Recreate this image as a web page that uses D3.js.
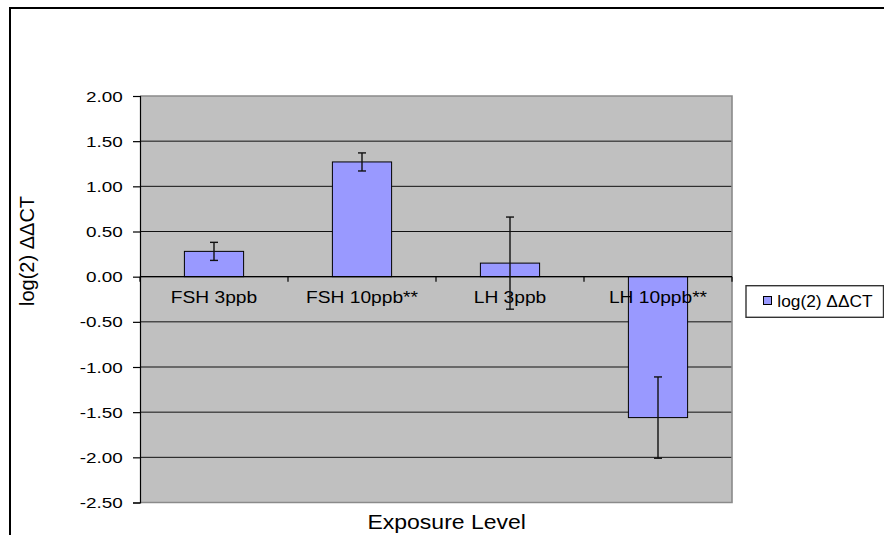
<!DOCTYPE html>
<html><head><meta charset="utf-8">
<script src="https://cdn.jsdelivr.net/npm/d3@7"></script>
<style>body{margin:0;background:#fff}svg{display:block}text{font-family:"Liberation Sans",Arial,sans-serif;fill:#000}</style>
</head><body>
<script>
const categories = ["FSH 3ppb", "FSH 10ppb**", "LH 3ppb", "LH 10ppb**"];
const values = [0.28, 1.27, 0.15, -1.56];
const errors = [0.10, 0.10, 0.51, 0.45];
const yTicks = [2.0, 1.5, 1.0, 0.5, 0.0, -0.5, -1.0, -1.5, -2.0, -2.5];
const seriesName = "log(2) \u0394\u0394CT";
const xTitle = "Exposure Level";

const W = 884, H = 535;
const svg = d3.select("body").append("svg").attr("width", W).attr("height", H);

// outer chart border
svg.append("rect").attr("x", 10).attr("y", 8).attr("width", 900).attr("height", 560)
  .attr("fill", "#fff").attr("stroke", "#000").attr("stroke-width", 2);

const L = 140, R = 732, T = 96, B = 502.5;
const x = d3.scaleBand().domain(categories).range([L, R]).paddingInner(0.6).paddingOuter(0.3);
const xb = d3.scaleBand().domain(categories).range([L, R]);
const y = d3.scaleLinear().domain([-2.5, 2]).range([B, T]);

function stext(g, str, tx, ty, size, sx, anchor) {
  return g.append("text").attr("transform", `translate(${tx},${ty}) scale(${sx},1)`)
    .attr("text-anchor", anchor).attr("font-size", size).text(str);
}

// plot area
svg.append("rect").attr("x", L).attr("y", T).attr("width", R - L).attr("height", B - T)
  .attr("fill", "#C0C0C0");

// gridlines
svg.append("g").selectAll("line").data(yTicks.filter(d => d !== 2 && d !== -2.5)).join("line")
  .attr("x1", L).attr("x2", R).attr("y1", d => y(d)).attr("y2", d => y(d))
  .attr("stroke", "#111").attr("stroke-width", 1);

// plot border (gray)
svg.append("path").attr("d", `M${L},${T}H${R}V${B}H${L}`).attr("fill", "none")
  .attr("stroke", "#8a8a8a").attr("stroke-width", 1.6);

// y axis
const yAxis = d3.axisLeft(y).tickValues(yTicks).tickSize(7).tickFormat(d3.format(".2f"));
const ga = svg.append("g").attr("transform", `translate(${L},0)`).call(yAxis);
ga.select(".domain").attr("stroke", "#000").attr("stroke-width", 1.2);
ga.selectAll(".tick line").attr("stroke", "#000").attr("stroke-width", 1.2);
ga.selectAll(".tick text").remove();
const gl = svg.append("g");
yTicks.forEach(t => {
  stext(gl, d3.format(".2f")(t).replace("\u2212", "-"), 122.7, y(t) + 5.6, 15.5, 1.22, "end");
});

// bars
svg.append("g").selectAll("rect").data(categories).join("rect")
  .attr("x", d => x(d)).attr("width", x.bandwidth())
  .attr("y", (d, i) => Math.min(y(values[i]), y(0)))
  .attr("height", (d, i) => Math.abs(y(values[i]) - y(0)))
  .attr("fill", "#9999FF").attr("stroke", "#000").attr("stroke-width", 1);

// zero axis line and category ticks
svg.append("line").attr("x1", L).attr("x2", R).attr("y1", y(0)).attr("y2", y(0))
  .attr("stroke", "#000").attr("stroke-width", 1.2);
const bounds = categories.map(c => xb(c)).concat([R]);
svg.append("g").selectAll("line").data(bounds).join("line")
  .attr("x1", d => d).attr("x2", d => d).attr("y1", y(0)).attr("y2", y(0) + 5)
  .attr("stroke", "#000").attr("stroke-width", 1.2);

// category labels
const gc = svg.append("g");
categories.forEach(c => {
  stext(gc, c, xb(c) + xb.bandwidth() / 2, 303.3, 16, 1.2, "middle");
});

// error bars
const ge = svg.append("g").attr("stroke", "#111").attr("stroke-width", 1.4);
categories.forEach((c, i) => {
  const cx = x(c) + x.bandwidth() / 2;
  const y1 = y(values[i] + errors[i]), y2 = y(values[i] - errors[i]);
  ge.append("line").attr("x1", cx).attr("x2", cx).attr("y1", y1).attr("y2", y2);
  ge.append("line").attr("x1", cx - 4).attr("x2", cx + 4).attr("y1", y1).attr("y2", y1);
  ge.append("line").attr("x1", cx - 4).attr("x2", cx + 4).attr("y1", y2).attr("y2", y2);
});

// axis titles
svg.append("text").attr("transform", "translate(34,251) rotate(-90)")
  .attr("text-anchor", "middle").attr("font-size", 20).text(seriesName);
stext(svg, xTitle, 446.7, 529.3, 20, 1.15, "middle");

// legend
svg.append("rect").attr("x", 746).attr("y", 285.7).attr("width", 137.5).attr("height", 31.6)
  .attr("fill", "#fff").attr("stroke", "#333").attr("stroke-width", 1.4);
svg.append("rect").attr("x", 763.5).attr("y", 296.5).attr("width", 8).attr("height", 8)
  .attr("fill", "#9999FF").attr("stroke", "#000").attr("stroke-width", 1);
stext(svg, seriesName, 777.3, 306.7, 16.5, 1.05, "start");
</script>
</body></html>
